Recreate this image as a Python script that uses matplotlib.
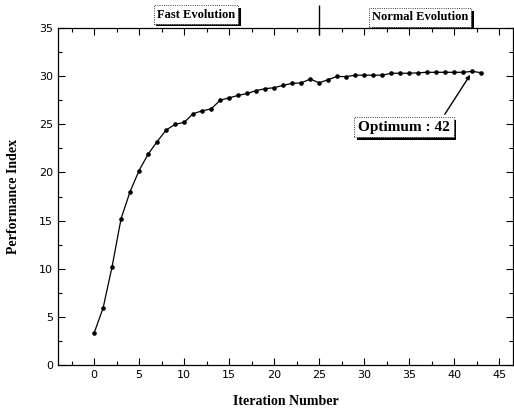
import numpy as np
import matplotlib
matplotlib.use('Agg')
import matplotlib.pyplot as plt
import matplotlib.patheffects as pe

# performance index per iteration
iterations = list(range(44))
performance = [3.3, 5.9, 10.2, 15.2, 18.0, 20.2, 21.9, 23.2, 24.4, 25.0,
               25.2, 26.1, 26.4, 26.6, 27.5, 27.75, 28.0, 28.2, 28.5, 28.7,
               28.8, 29.05, 29.25, 29.3, 29.7, 29.3, 29.65, 29.97, 29.95, 30.1,
               30.1, 30.1, 30.1, 30.3, 30.3, 30.3, 30.35, 30.4, 30.4, 30.4,
               30.4, 30.4, 30.5, 30.35]
optimum_iter = 42
split_iter = 25

fig = plt.figure(figsize=(5.14, 4.13), dpi=100)
ax = fig.add_axes([58/514, 1 - 365/413, (513 - 58)/514, (365 - 28)/413])

ax.plot(iterations, performance, color='black', lw=0.9, marker='o', ms=2.3)

ax.set_xlim(-4, 46.5)
ax.set_ylim(0, 35)
ax.set_xticks(range(0, 50, 5))
ax.set_xticks(np.arange(-2.5, 46, 5), minor=True)
ax.set_yticks(range(0, 40, 5))
ax.set_yticks(np.arange(2.5, 35, 5), minor=True)
ax.tick_params(which='both', direction='in', top=True, right=True,
               labelsize=8, width=0.8)
ax.tick_params(which='major', length=5)
ax.tick_params(which='minor', length=3)
for s in ax.spines.values():
    s.set_linewidth(0.9)

serif = 'Liberation Serif'
ax.set_xlabel('Iteration Number', family=serif, weight='bold', fontsize=10, labelpad=11)
ax.set_ylabel('Performance Index', family=serif, weight='bold', fontsize=10, labelpad=14)

# split marker above the plot
ax.vlines(split_iter, 34.3, 37.4, color='black', lw=1, clip_on=False)

shadow = [pe.withSimplePatchShadow(offset=(2, -2), shadow_rgbFace='black', alpha=1)]
box = dict(boxstyle='square,pad=0.25', fc='white', ec='black', lw=0.6, ls=':')

for label, xc, yc in [('Fast Evolution', 11.3, 36.4), ('Normal Evolution', 36.2, 36.1)]:
    t = ax.text(xc, yc, label, family=serif, weight='bold', fontsize=9,
                ha='center', va='center', bbox=box, clip_on=False)
    t.get_bbox_patch().set_path_effects(shadow)

t = ax.annotate('Optimum : ' + str(optimum_iter),
                xy=(optimum_iter, performance[optimum_iter]), xytext=(34.4, 24.7),
                family=serif, weight='bold', fontsize=11, ha='center', va='center',
                bbox=box, arrowprops=dict(arrowstyle='-|>', color='black', lw=1,
                                          mutation_scale=6, relpos=(0.9, 1),
                                          shrinkA=2, shrinkB=3))
t.get_bbox_patch().set_path_effects(shadow)

fig.savefig('out.png', dpi=100)
